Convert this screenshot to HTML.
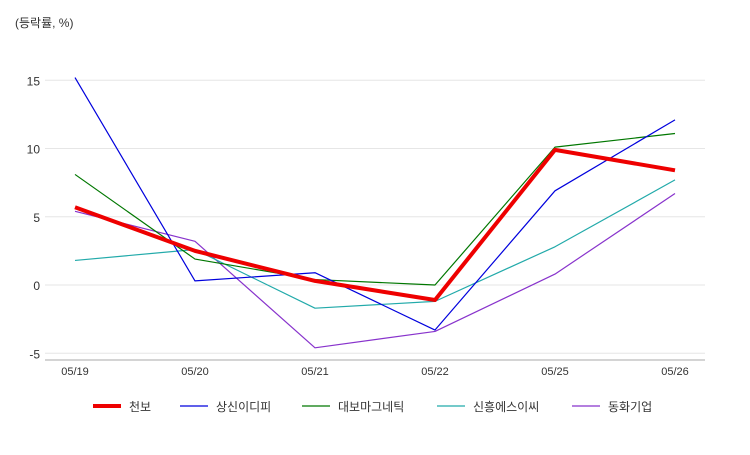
<!DOCTYPE html>
<html><head><meta charset="utf-8"><style>
body{margin:0;background:#fff;width:750px;height:450px;overflow:hidden}
text{font-family:"Liberation Sans","Noto Sans CJK KR",sans-serif}
</style></head><body>
<svg id="chart" width="750" height="450" xmlns="http://www.w3.org/2000/svg">
<text x="15" y="27" font-size="12" fill="#333">(등락률, %)</text>
<g id="grid"></g><g id="series"></g><g id="legend"></g>
</svg>
<script>
const categories=["05/19","05/20","05/21","05/22","05/25","05/26"];
const yTicks=[15,10,5,0,-5];
const seriesNames=["천보","상신이디피","대보마그네틱","신흥에스이씨","동화기업"];
const s0=[5.7,2.5,0.3,-1.1,9.9,8.4];
const s1=[15.2,0.3,0.9,-3.3,6.9,12.1];
const s2=[8.1,1.9,0.4,0.0,10.1,11.1];
const s3=[1.8,2.6,-1.7,-1.2,2.8,7.7];
const s4=[5.4,3.2,-4.6,-3.4,0.8,6.7];
const seriesData=[s0,s1,s2,s3,s4];
const colors=["#ee0000","#0000dd","#007700","#22aaaa","#8833cc"];
const widths=[4,1.2,1.2,1.2,1.2];
const NS="http://www.w3.org/2000/svg";
const x=i=>75+i*120;
const y=v=>285-v*13.65;
function mk(t,a,p){const e=document.createElementNS(NS,t);for(const k in a)e.setAttribute(k,a[k]);p.appendChild(e);return e;}
const grid=document.getElementById('grid');
yTicks.forEach(t=>{
 const l=mk('line',{x1:45,x2:705,y1:y(t),y2:y(t),stroke:'#e6e6e6'},grid);
 
 
 const tx=mk('text',{x:40,y:y(t)+5,'text-anchor':'end','font-size':12,fill:'#333'},grid);
 tx.textContent=t;
 
 
});
const ax=mk('line',{x1:45,x2:705,y1:360,y2:360,stroke:'#aaa'},grid);


categories.forEach((c,i)=>{
 const tx=mk('text',{x:x(i),y:375,'text-anchor':'middle','font-size':11,fill:'#333'},grid);
 tx.textContent=c;
 
 
});
const sg=document.getElementById('series');
for(let k=seriesData.length-1;k>=0;k--){
 const p=mk('polyline',{points:seriesData[k].map((v,i)=>x(i)+','+y(v)).join(' '),fill:'none',stroke:colors[k],'stroke-width':widths[k],'stroke-linejoin':'round'},sg);
 
 
}
const lg=document.getElementById('legend');
const lx=[93,180,302,437,572];
seriesNames.forEach((n,k)=>{
 const l=mk('line',{x1:lx[k],x2:lx[k]+28,y1:406,y2:406,stroke:colors[k],'stroke-width':k==0?4:1.2},lg);
 
 
 const t=mk('text',{x:lx[k]+36,y:411,'font-size':12,fill:'#333'},lg);
 t.textContent=n;
 
 
});
</script>
</body></html>
